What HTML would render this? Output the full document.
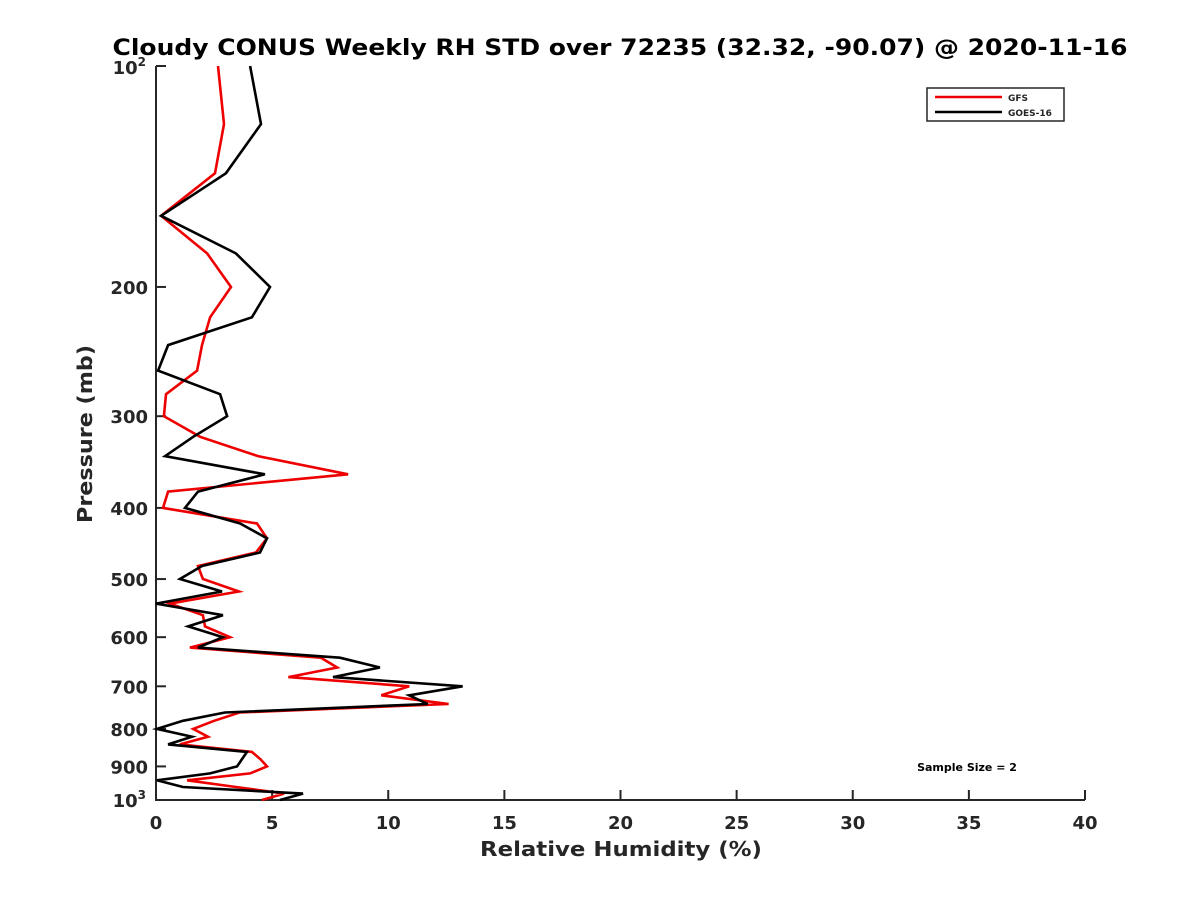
<!DOCTYPE html>
<html><head><meta charset="utf-8"><style>
body{margin:0;background:#fff;}
svg text{font-family:"DejaVu Sans","Liberation Sans",sans-serif;font-weight:bold;fill:#262626;}
</style></head><body>
<svg id="chart" width="1200" height="900" xmlns="http://www.w3.org/2000/svg">
<rect width="1200" height="900" fill="#fff"/>
<text x="620" y="55" text-anchor="middle" font-size="22" textLength="1015" lengthAdjust="spacingAndGlyphs" style="fill:#000">Cloudy CONUS Weekly RH STD over 72235 (32.32, -90.07) @ 2020-11-16</text>
<g id="axes"></g>
<g id="series"></g>
<g>
<rect x="927" y="88" width="137" height="33" fill="#fff" stroke="#262626" stroke-width="1.5"/>
<line x1="935" y1="97" x2="1002" y2="97" stroke="#e00" stroke-width="2.5"/>
<text x="1008" y="101" font-size="9">GFS</text>
<line x1="935" y1="112" x2="1002" y2="112" stroke="#000" stroke-width="2.5"/>
<text x="1008" y="116" font-size="9">GOES-16</text>
</g>
<text x="967" y="771" text-anchor="middle" font-size="11" style="fill:#000">Sample Size = 2</text>
<text x="621" y="856" text-anchor="middle" font-size="20" textLength="282" lengthAdjust="spacingAndGlyphs">Relative Humidity (%)</text>
<text transform="translate(92,434) rotate(-90)" text-anchor="middle" font-size="20" textLength="178" lengthAdjust="spacingAndGlyphs">Pressure (mb)</text>
</svg>
<script>
const pressures=[100,120,140,160,180,200,220,240,260,280,300,320,340,360,380,400,420,440,460,480,500,520,540,560,580,600,620,640,660,680,700,720,740,760,780,800,820,840,860,880,900,920,940,960,980,1000];
const gfsValues=[2.67,2.93,2.54,0.22,2.2,3.23,2.33,1.98,1.77,0.43,0.34,1.9,4.39,8.27,0.52,0.3,4.35,4.78,4.3,1.81,2.02,3.57,0.6,2.02,2.11,3.19,1.46,7.1,7.8,5.7,10.9,9.7,12.6,3.6,2.5,1.6,2.24,1.03,4.13,4.5,4.78,4.05,1.34,3.44,5.51,4.56];
const goesValues=[4.05,4.52,3.01,0.22,3.44,4.91,4.13,0.52,0.09,2.76,3.06,1.6,0.39,4.69,1.81,1.25,3.62,4.78,4.48,1.98,1.03,2.84,0,2.88,1.38,2.88,1.81,7.92,9.64,7.62,13.2,10.9,11.7,2.97,1.16,0.04,1.55,0.52,3.92,3.7,3.49,2.33,0.04,1.16,6.33,5.34];
const xTicks=[0,5,10,15,20,25,30,35,40];
const yTicks=[200,300,400,500,600,700,800,900];
const NS="http://www.w3.org/2000/svg";
const L=156,R=1085,T=66,B=800;
function xs(v){return L+(v-0)/40*(R-L);}
function ys(p){return T+Math.log10(p/100)*(B-T);}
function mk(tag,attrs,parent){const e=document.createElementNS(NS,tag);for(const k in attrs)e.setAttribute(k,attrs[k]);parent.appendChild(e);return e;}
const ax=document.getElementById('axes');
let a=mk('path',{d:`M${L},${T}V${B}H${R}`,fill:'none',stroke:'#262626','stroke-width':2},ax);


xTicks.forEach(v=>{
 const t=mk('line',{x1:xs(v),x2:xs(v),y1:B,y2:B-10,stroke:'#262626','stroke-width':2},ax);
 
 
 const tx=mk('text',{x:xs(v),y:B+29,'text-anchor':'middle','font-size':18},ax);tx.textContent=v;
 
 
});
[100,1000].concat(yTicks).forEach(p=>{
 const t=mk('line',{x1:L,x2:L+10,y1:ys(p),y2:ys(p),stroke:'#262626','stroke-width':2},ax);
 
 
});
yTicks.forEach(p=>{
 const tx=mk('text',{x:L-8,y:ys(p)+7,'text-anchor':'end','font-size':18},ax);tx.textContent=p;
 
 
});
[[100,'2'],[1000,'3']].forEach(([p,e])=>{
 const tx=mk('text',{x:L-10,y:ys(p)+(p==100?8:7),'text-anchor':'end','font-size':18},ax);
 tx.innerHTML='10<tspan font-size="12" dy="-8">'+e+'</tspan>';
 
 
});
const sg=document.getElementById('series');
function line(vals,color,name){
 const d=vals.map((v,i)=>(i?'L':'M')+xs(v).toFixed(1)+','+ys(pressures[i]).toFixed(1)).join('');
 const p=mk('path',{d:d,fill:'none',stroke:color,'stroke-width':2.6,'stroke-linejoin':'miter'},sg);
 
 
}
line(gfsValues,'#e00','gfs-line');
line(goesValues,'#000','goes16-line');
</script>
</body></html>
